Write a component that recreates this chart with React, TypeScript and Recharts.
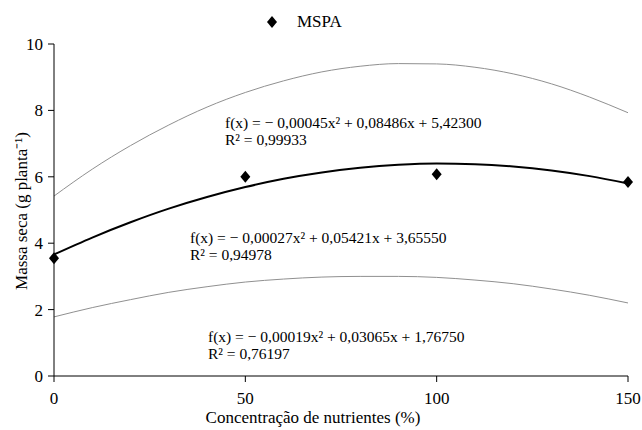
import {
  ComposedChart,
  Line,
  Scatter,
  XAxis,
  YAxis,
} from "recharts";

// doses de nutrientes (%)
const doses = [0, 10, 20, 30, 40, 50, 60, 70, 80, 90, 100, 110, 120, 130, 140, 150];

// curvas
const curvaSuperior = [5.42, 6.23, 6.94, 7.56, 8.1, 8.54, 8.89, 9.16, 9.33, 9.41, 9.4, 9.3, 9.1, 8.8, 8.4, 7.93];
const curvaMedia = [3.66, 4.17, 4.63, 5.04, 5.39, 5.69, 5.94, 6.13, 6.27, 6.36, 6.4, 6.38, 6.31, 6.19, 6.02, 5.8];
const curvaInferior = [1.78, 2.06, 2.3, 2.52, 2.69, 2.83, 2.92, 2.98, 3.0, 3.0, 2.97, 2.89, 2.78, 2.62, 2.43, 2.2];

// pontos observados (MSPA)
const dosesObs = [0, 50, 100, 150];
const mspa = [3.55, 6.0, 6.08, 5.84];

const xTicks = [0, 50, 100, 150];
const yTicks = [0, 2, 4, 6, 8, 10];

const serie = (vals: number[]) => doses.map((x, i) => ({ x, y: vals[i] }));
const pontos = dosesObs.map((x, i) => ({ x, y: mspa[i] }));

const FONT = "'Liberation Serif', 'Times New Roman', serif";

function Losango(props: any) {
  const { cx, cy } = props;
  if (cx == null || cy == null) return null;
  return (
    <polygon
      points={`${cx},${cy - 6} ${cx + 5},${cy} ${cx},${cy + 6} ${cx - 5},${cy}`}
      fill="#000"
    />
  );
}

const tickStyle = { fill: "#000", fontSize: 17, fontFamily: FONT };

export default function App() {
  return (
    <div
      style={{
        position: "absolute",
        left: 0,
        top: 0,
        width: 642,
        height: 430,
        background: "#fff",
        fontFamily: FONT,
      }}
    >
      <ComposedChart width={642} height={430} margin={{ top: 44, right: 14, left: 0, bottom: 0 }}>
        <XAxis
          type="number"
          dataKey="x"
          domain={[0, 150]}
          ticks={xTicks}
          height={54}
          stroke="#000"
          tick={tickStyle}
          tickSize={6}
          tickMargin={10}
          allowDuplicatedCategory={false}
        />
        <YAxis
          type="number"
          domain={[0, 10]}
          ticks={yTicks}
          width={54}
          stroke="#000"
          tick={tickStyle}
          tickSize={6}
          tickMargin={5}
        />
        <Line data={serie(curvaSuperior)} dataKey="y" type="monotone" stroke="#909090" strokeWidth={1} dot={false} isAnimationActive={false} />
        <Line data={serie(curvaInferior)} dataKey="y" type="monotone" stroke="#909090" strokeWidth={1} dot={false} isAnimationActive={false} />
        <Line data={serie(curvaMedia)} dataKey="y" type="monotone" stroke="#000" strokeWidth={2} dot={false} isAnimationActive={false} />
        <Scatter data={pontos} dataKey="y" shape={<Losango />} isAnimationActive={false} />
      </ComposedChart>
      <svg
        width={642}
        height={430}
        style={{ position: "absolute", left: 0, top: 0, pointerEvents: "none", fontFamily: FONT, fontSize: 17 }}
        fill="#000"
      >
        <polygon points="272,16 277,22 272,28 267,22" fill="#000" />
        <text x={297} y={27}>MSPA</text>

        <g fontSize={15.5}>
          <text x={225} y={128}>f(x) = − 0,00045x² + 0,08486x + 5,42300</text>
          <text x={225} y={145}>R² = 0,99933</text>

          <text x={190} y={243}>f(x) = − 0,00027x² + 0,05421x + 3,65550</text>
          <text x={190} y={260}>R² = 0,94978</text>

          <text x={208} y={342}>f(x) = − 0,00019x² + 0,03065x + 1,76750</text>
          <text x={208} y={359}>R² = 0,76197</text>
        </g>

        <text x={313} y={423} textAnchor="middle">Concentração de nutrientes (%)</text>
        <text x={27} y={211} textAnchor="middle" transform="rotate(-90 27 211)">Massa seca  (g planta⁻¹)</text>
      </svg>
    </div>
  );
}
